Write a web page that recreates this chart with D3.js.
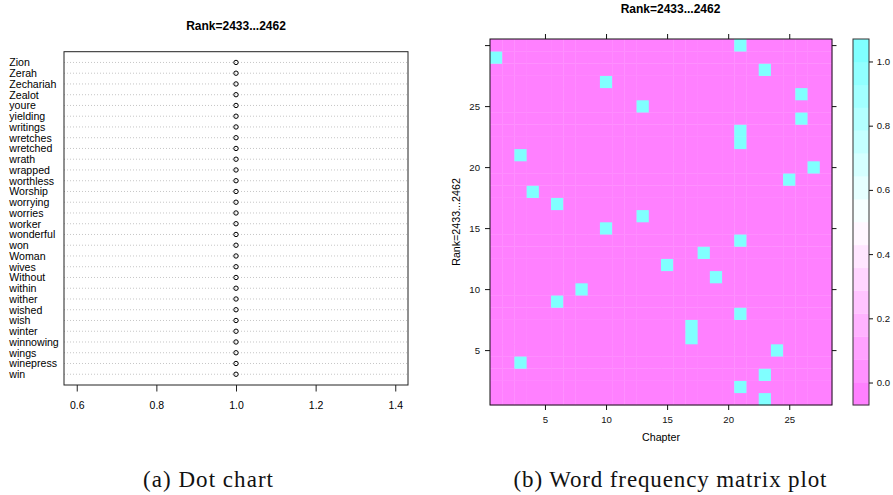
<!DOCTYPE html>
<html>
<head>
<meta charset="utf-8">
<script src="https://cdn.jsdelivr.net/npm/d3@7"></script>
<style>
  body { margin: 0; background: #fff; }
  svg { display: block; font-family: "Liberation Sans", Arial, sans-serif; }
</style>
</head>
<body>
<svg id="chart" width="893" height="495"></svg>
<script>
// ---- data: dot chart (top row first)
const words = ["Zion", "Zerah", "Zechariah", "Zealot", "youre", "yielding", "writings",
  "wretches", "wretched", "wrath", "wrapped", "worthless", "Worship", "worrying", "worries",
  "worker", "wonderful", "won", "Woman", "wives", "Without", "within", "wither", "wished",
  "wish", "winter", "winnowing", "wings", "winepress", "win"];
const wordCounts = [1, 1, 1, 1, 1, 1, 1, 1, 1, 1, 1, 1, 1, 1, 1,
  1, 1, 1, 1, 1, 1, 1, 1, 1, 1, 1, 1, 1, 1, 1];
const dotTicks = [0.6, 0.8, 1.0, 1.2, 1.4];

// ---- data: matrix plot, chapter where each rank row (1..30) occurs
const rankRows = [1, 2, 3, 4, 5, 6, 7, 8, 9, 10, 11, 12, 13, 14, 15,
  16, 17, 18, 19, 20, 21, 22, 23, 24, 25, 26, 27, 28, 29, 30];
const hitChapter = [23, 21, 23, 3, 24, 17, 17, 21, 6, 8, 19, 15, 18, 21, 10,
  13, 6, 4, 25, 27, 3, 21, 21, 26, 13, 26, 10, 23, 1, 21];
const nChapters = 28;
const chapterTicks = [5, 10, 15, 20, 25];
const rankTicks = [5, 10, 15, 20, 25, 30];
const legendTicks = [0.0, 0.2, 0.4, 0.6, 0.8, 1.0];

const titleText = "Rank=2433...2462";

const svg = d3.select("#chart");

// ================= (a) dot chart =================
let dx = d3.scaleLinear().domain([0.6 - 0.032, 1.4 + 0.032]).range([64, 408]);
let dy = d3.scaleLinear().domain([0, words.length + 1]).range([385, 51.7]);

let dot = svg.append("g");

dot.append("text")
  .attr("x", 236).attr("y", 29.5)
  .attr("text-anchor", "middle")
  .style("font-weight", "bold").style("font-size", "12px")
  .text(titleText);

// dotted guide lines
dot.selectAll(".guide")
  .data(words)
  .enter().append("line")
  .attr("x1", 64).attr("x2", 408)
  .attr("y1", (d, i) => dy(words.length - i))
  .attr("y2", (d, i) => dy(words.length - i))
  .attr("stroke", "#b8b8b8")
  .attr("stroke-width", 0.8)
  .attr("stroke-dasharray", "1,2");

dot.selectAll(".lab")
  .data(words)
  .enter().append("text")
  .attr("x", 9.3)
  .attr("y", (d, i) => dy(words.length - i) + 3.8)
  .style("font-size", "10.6px")
  .text(d => d);

dot.selectAll(".pt")
  .data(wordCounts)
  .enter().append("circle")
  .attr("cx", d => dx(d))
  .attr("cy", (d, i) => dy(words.length - i))
  .attr("r", 2.2)
  .attr("fill", "none")
  .attr("stroke", "#000")
  .attr("stroke-width", 1);

dot.append("rect")
  .attr("x", 64).attr("y", 51.7)
  .attr("width", 344).attr("height", 385 - 51.7)
  .attr("fill", "none").attr("stroke", "#222");

let dotAxis = dot.append("g")
  .attr("transform", "translate(0,385)")
  .call(d3.axisBottom(dx).tickValues(dotTicks).tickSize(6.5).tickPadding(10)
    .tickFormat(d3.format(".1f")));
dotAxis.select(".domain").remove();
dotAxis.selectAll("text").style("font-size", "10.5px").attr("fill", "#000").style("font-family", "Liberation Sans, Arial, sans-serif");
dotAxis.selectAll("line").attr("stroke", "#222");

// ================= (b) matrix plot =================
let hx = d3.scaleLinear().domain([0.5, nChapters + 0.5]).range([490, 832]);
let hy = d3.scaleLinear().domain([0.5, rankRows.length + 0.5]).range([405, 39]);

const nBands = 16;
const breaks = d3.range(nBands + 1).map(i => -0.07 + i * 1.14 / nBands);
const palette = d3.piecewise(d3.interpolateRgb, ["#FF80FF", "#FFFFFF", "#80FFFF"]);
const bandColors = d3.range(nBands).map(i => palette(i / (nBands - 1)));
const color = d3.scaleThreshold().domain(breaks.slice(1, -1)).range(bandColors);

let cells = [];
rankRows.forEach((r, i) => {
  for (let c = 1; c <= nChapters; c++) {
    cells.push({ chapter: c, rank: r, value: c === hitChapter[i] ? 1 : 0 });
  }
});

let mat = svg.append("g");

mat.append("text")
  .attr("x", 670.5).attr("y", 13)
  .attr("text-anchor", "middle")
  .style("font-weight", "bold").style("font-size", "12px")
  .text(titleText);

mat.selectAll(".cell")
  .data(cells)
  .enter().append("rect")
  .attr("x", d => hx(d.chapter - 0.5))
  .attr("y", d => hy(d.rank + 0.5))
  .attr("width", d => hx(d.chapter + 0.5) - hx(d.chapter - 0.5) + 0.3)
  .attr("height", d => hy(d.rank - 0.5) - hy(d.rank + 0.5) + 0.3)
  .attr("fill", d => color(d.value));

mat.append("rect")
  .attr("x", 490).attr("y", 39)
  .attr("width", 342).attr("height", 366)
  .attr("fill", "none").attr("stroke", "#111");

function styleAxis(g, size) {
  g.select(".domain").remove();
  g.selectAll("line").attr("stroke", "#111");
  g.selectAll("text").attr("fill", "#111").style("font-size", size)
    .style("font-family", "Liberation Sans, Arial, sans-serif");
}

mat.append("g").attr("transform", "translate(0,405)")
  .call(d3.axisBottom(hx).tickValues(chapterTicks).tickSize(5).tickPadding(6.6))
  .call(g => styleAxis(g, "9.6px"));
mat.append("g").attr("transform", "translate(0,39)")
  .call(d3.axisTop(hx).tickValues(chapterTicks).tickSize(5).tickFormat(""))
  .call(g => styleAxis(g, "9.6px"));
mat.append("g").attr("transform", "translate(490,0)")
  .call(d3.axisLeft(hy).tickValues(rankTicks).tickSize(5).tickPadding(5)
    .tickFormat(d => d === 30 ? "" : d))
  .call(g => styleAxis(g, "9.6px"));
mat.append("g").attr("transform", "translate(832,0)")
  .call(d3.axisRight(hy).tickValues(rankTicks).tickSize(4.5).tickFormat(""))
  .call(g => styleAxis(g, "9.6px"));

mat.append("text")
  .attr("x", 661).attr("y", 441)
  .attr("text-anchor", "middle")
  .style("font-size", "10.7px")
  .text("Chapter");

mat.append("text")
  .attr("transform", "translate(460,222) rotate(-90)")
  .attr("text-anchor", "middle")
  .style("font-size", "10.7px")
  .text(titleText);

// colour key
let cy = d3.scaleLinear().domain([breaks[0], breaks[nBands]]).range([405, 39]);
let key = svg.append("g");
key.selectAll(".band")
  .data(bandColors)
  .enter().append("rect")
  .attr("x", 853).attr("width", 16)
  .attr("y", (d, i) => cy(breaks[i + 1]))
  .attr("height", (d, i) => cy(breaks[i]) - cy(breaks[i + 1]) + 0.3)
  .attr("fill", d => d);
key.append("rect")
  .attr("x", 853).attr("y", 39).attr("width", 16).attr("height", 366)
  .attr("fill", "none").attr("stroke", "#333");
key.append("g").attr("transform", "translate(869,0)")
  .call(d3.axisRight(cy).tickValues(legendTicks).tickSize(4).tickPadding(3.7)
    .tickFormat(d3.format(".1f")))
  .call(g => styleAxis(g, "9.6px"));

// ================= captions =================
svg.append("text")
  .attr("x", 208).attr("y", 487)
  .attr("text-anchor", "middle")
  .attr("textLength", 130).attr("lengthAdjust", "spacing")
  .style("font-family", "'Liberation Serif', 'Times New Roman', serif")
  .style("font-size", "23px")
  .attr("fill", "#111")
  .text("(a) Dot chart");

svg.append("text")
  .attr("x", 670).attr("y", 487)
  .attr("text-anchor", "middle")
  .attr("textLength", 313).attr("lengthAdjust", "spacing")
  .style("font-family", "'Liberation Serif', 'Times New Roman', serif")
  .style("font-size", "23px")
  .attr("fill", "#111")
  .text("(b) Word frequency matrix plot");
</script>
</body>
</html>
